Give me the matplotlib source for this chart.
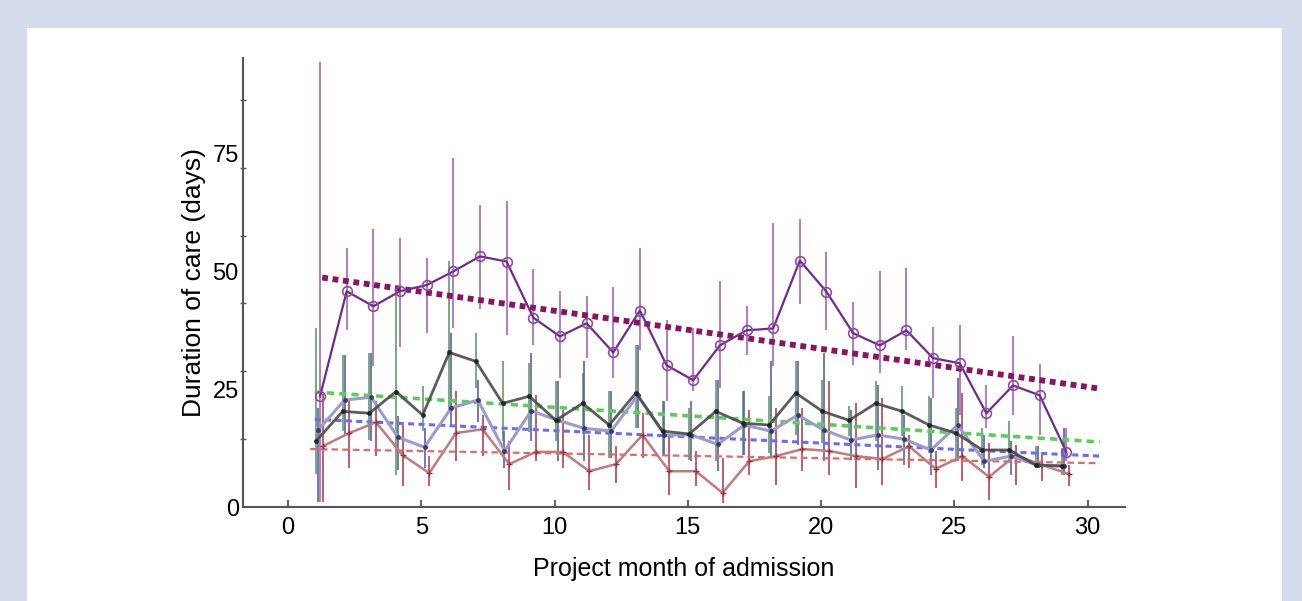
import numpy as np
import matplotlib
matplotlib.use("Agg")
import matplotlib.pyplot as plt
from matplotlib.patches import Rectangle
from matplotlib.ticker import MultipleLocator

plt.rcParams["font.family"] = ["Liberation Sans", "DejaVu Sans"]

# project month of admission
months = np.arange(1, 30)

# series 1 (purple, circles)
purple_mean = [23.5, 45.8, 42.6, 45.8, 47.1, 50.0, 53.2, 52.1, 40.2, 36.2, 39.0, 32.8, 41.7, 30.1, 26.9,
               34.3, 37.5, 37.9, 52.3, 45.7, 36.9, 34.3, 37.5, 31.6, 30.5, 19.9, 25.8, 23.7, 11.7]
purple_hi = [94.5, 55.0, 59.0, 57.0, 52.8, 74.0, 64.0, 65.0, 50.6, 45.8, 44.7, 46.6, 54.9, 39.6, 37.9,
             47.9, 42.6, 60.2, 61.2, 54.2, 43.6, 50.0, 50.8, 38.3, 38.6, 25.8, 36.4, 30.3, 16.7]
purple_lo = [1.0, 37.5, 30.0, 34.0, 36.9, 38.0, 42.0, 36.5, 34.3, 27.3, 31.6, 27.3, 33.3, 22.5, 24.6,
             25.2, 32.2, 30.0, 43.0, 37.5, 30.1, 28.4, 33.3, 23.1, 19.5, 16.7, 19.5, 15.3, 9.7]

# series 2 (dark grey line, green bars)
black_mean = [14.0, 20.3, 19.9, 24.5, 19.5, 32.8, 30.9, 22.0, 23.5, 18.4, 22.0, 17.4, 24.2, 16.1, 15.5,
              20.3, 17.8, 17.4, 24.2, 20.3, 18.4, 22.0, 20.3, 17.4, 15.7, 12.1, 12.1, 8.9, 8.7]
green_hi = [38.0, 32.2, 32.6, 46.4, 25.6, 52.3, 36.9, 30.9, 30.5, 26.7, 28.5, 24.6, 34.3, 22.5, 21.0,
            26.9, 24.6, 23.5, 30.9, 27.0, 21.4, 26.7, 25.6, 23.5, 21.0, 16.7, 18.2, 12.9, 12.5]
green_lo = [7.0, 16.1, 14.2, 6.8, 16.1, 20.0, 25.2, 14.0, 16.0, 14.0, 15.5, 10.4, 16.7, 11.0, 10.0,
            9.7, 11.0, 11.5, 15.3, 13.5, 15.0, 14.0, 15.0, 11.5, 10.5, 8.9, 9.7, 8.3, 6.8]

# series 3 (lavender line, blue bars)
blue_mean = [16.3, 22.7, 23.3, 14.8, 12.7, 21.0, 22.7, 11.9, 20.4, 18.4, 16.7, 16.1, 23.7, 15.3, 15.3,
             13.3, 17.4, 16.1, 19.5, 16.3, 14.2, 15.3, 14.4, 12.1, 17.4, 9.7, 10.8, 8.9, 8.7]
blue_hi = [21.0, 32.2, 32.6, 19.3, 16.7, 36.9, 27.0, 16.1, 32.6, 26.7, 30.9, 24.6, 34.3, 22.5, 22.5,
           26.9, 24.6, 30.9, 30.9, 32.6, 20.6, 25.8, 19.5, 23.1, 27.3, 15.3, 14.0, 12.9, 16.7]
blue_lo = [1.0, 15.3, 14.0, 7.8, 8.3, 17.4, 18.0, 8.3, 14.0, 9.7, 9.7, 10.4, 16.7, 11.0, 9.7,
           7.6, 11.0, 10.4, 13.1, 9.7, 10.0, 7.8, 8.9, 6.8, 9.7, 8.3, 6.8, 8.3, 6.8]

# series 4 (red)
red_mean = [12.9, 15.7, 18.0, 11.0, 7.2, 15.7, 16.5, 9.1, 11.7, 11.7, 7.6, 9.1, 15.3, 7.6, 7.6,
            3.0, 9.7, 10.8, 12.3, 11.9, 10.8, 10.2, 12.9, 8.1, 10.8, 6.4, 11.0, 8.9, 7.0]
red_hi = [24.0, 22.5, 22.5, 17.4, 10.8, 24.6, 19.5, 14.0, 23.7, 20.6, 15.3, 12.9, 19.9, 15.3, 11.9,
          10.4, 20.6, 21.0, 21.0, 26.7, 22.0, 23.1, 15.3, 11.9, 24.2, 13.6, 13.1, 11.0, 8.9]
red_lo = [1.0, 8.3, 10.8, 4.4, 4.4, 9.7, 10.8, 3.6, 9.7, 8.3, 3.6, 5.1, 10.4, 2.5, 4.4,
          0.8, 6.8, 4.7, 7.6, 6.8, 4.0, 4.7, 8.3, 4.0, 5.5, 1.5, 4.7, 5.5, 4.4]

# linear trend lines (start / end)
purple_trend_x, purple_trend_y = [1.28, 30.35], [48.7, 25.2]
green_trend_x, green_trend_y = [1.0, 30.45], [24.4, 13.8]
blue_trend_x, blue_trend_y = [1.0, 30.45], [18.6, 10.8]
red_trend_x, red_trend_y = [0.83, 30.45], [12.3, 9.3]

x_ticks = [0, 5, 10, 15, 20, 25, 30]
y_ticks = [0, 25, 50, 75]

W, H = 1302, 601
fig = plt.figure(figsize=(W / 100, H / 100), dpi=100, facecolor="#d5dcee")
fig.patches.append(Rectangle((27 / W, 0), (1282 - 27) / W, (H - 28) / H,
                             transform=fig.transFigure, facecolor="white", edgecolor="none", zorder=-5))

ax = fig.add_axes([243 / W, (H - 507) / H, (1125 - 243) / W, (507 - 58) / H])
ax.set_zorder(2)
ax.set_facecolor("none")


def draw_bars(x, lo, hi, color, z):
    ax.vlines(x, lo, hi, colors=color, linewidth=1.3, alpha=0.9, zorder=z)


xp = months + 0.2
xb = months + 0.05
xl = months + 0.12
xr = months + 0.3

draw_bars(xb, green_lo, green_hi, "#64976a", 2)
draw_bars(xl, blue_lo, blue_hi, "#56609e", 2)
draw_bars(xr, red_lo, red_hi, "#ad4050", 2)
draw_bars(xp, purple_lo, purple_hi, "#a064b8", 2)

ax.plot(green_trend_x, green_trend_y, color="#5ccc5c", linestyle=(0, (2.0, 1.4)), linewidth=2.6, zorder=3)
ax.plot(blue_trend_x, blue_trend_y, color="#6b6bf5", linestyle=(0, (2.0, 1.4)), linewidth=2.2, zorder=3)
ax.plot(red_trend_x, red_trend_y, color="#de6a6a", linestyle=(0, (3, 1.8)), linewidth=1.6, zorder=3)

ax.plot(xr, red_mean, color="#c07c7c", linewidth=1.8, marker="+", markersize=5,
        markeredgecolor="#9a3040", zorder=4)
ax.plot(xl, blue_mean, color="#9c9cca", linewidth=2.2, marker=".", markersize=5,
        markeredgecolor="#3a3a70", markerfacecolor="#3a3a70", zorder=4)
ax.plot(xb, black_mean, color="#4a4a4a", linewidth=2.0, alpha=0.9, marker=".", markersize=5,
        markerfacecolor="#222222", markeredgecolor="#222222", zorder=5)

ax.plot(purple_trend_x, purple_trend_y, color="#8a1460", linestyle=(0, (1.0, 0.8)), linewidth=4.2, zorder=5)
ax.plot(xp, purple_mean, color="#6e2c8a", linewidth=1.6, marker="o", markersize=7,
        markerfacecolor="none", markeredgecolor="#8e4aa8", markeredgewidth=1.2, zorder=6)

ax.set_xlim(-1.69, 31.4)
ax.set_ylim(0, 95.3)
ax.set_xticks(x_ticks)
ax.set_yticks(y_ticks)
ax.yaxis.set_minor_locator(MultipleLocator(14.4))

for side in ("top", "right"):
    ax.spines[side].set_visible(False)
for side in ("left", "bottom"):
    ax.spines[side].set_color("#555555")
    ax.spines[side].set_linewidth(1.5)

ax.tick_params(axis="x", direction="in", length=5, width=1.3, color="#555555",
               labelsize=17, pad=7)
ax.tick_params(axis="y", which="major", length=0, labelsize=17, pad=3)
ax.tick_params(axis="y", which="minor", direction="inout", length=4, width=1, color="#555555")

ax.set_xlabel("Project month of admission", fontsize=18, labelpad=13)
ax.set_ylabel("Duration of care (days)", fontsize=19, labelpad=5)

fig.savefig("out.png", dpi=100, facecolor=fig.get_facecolor())
